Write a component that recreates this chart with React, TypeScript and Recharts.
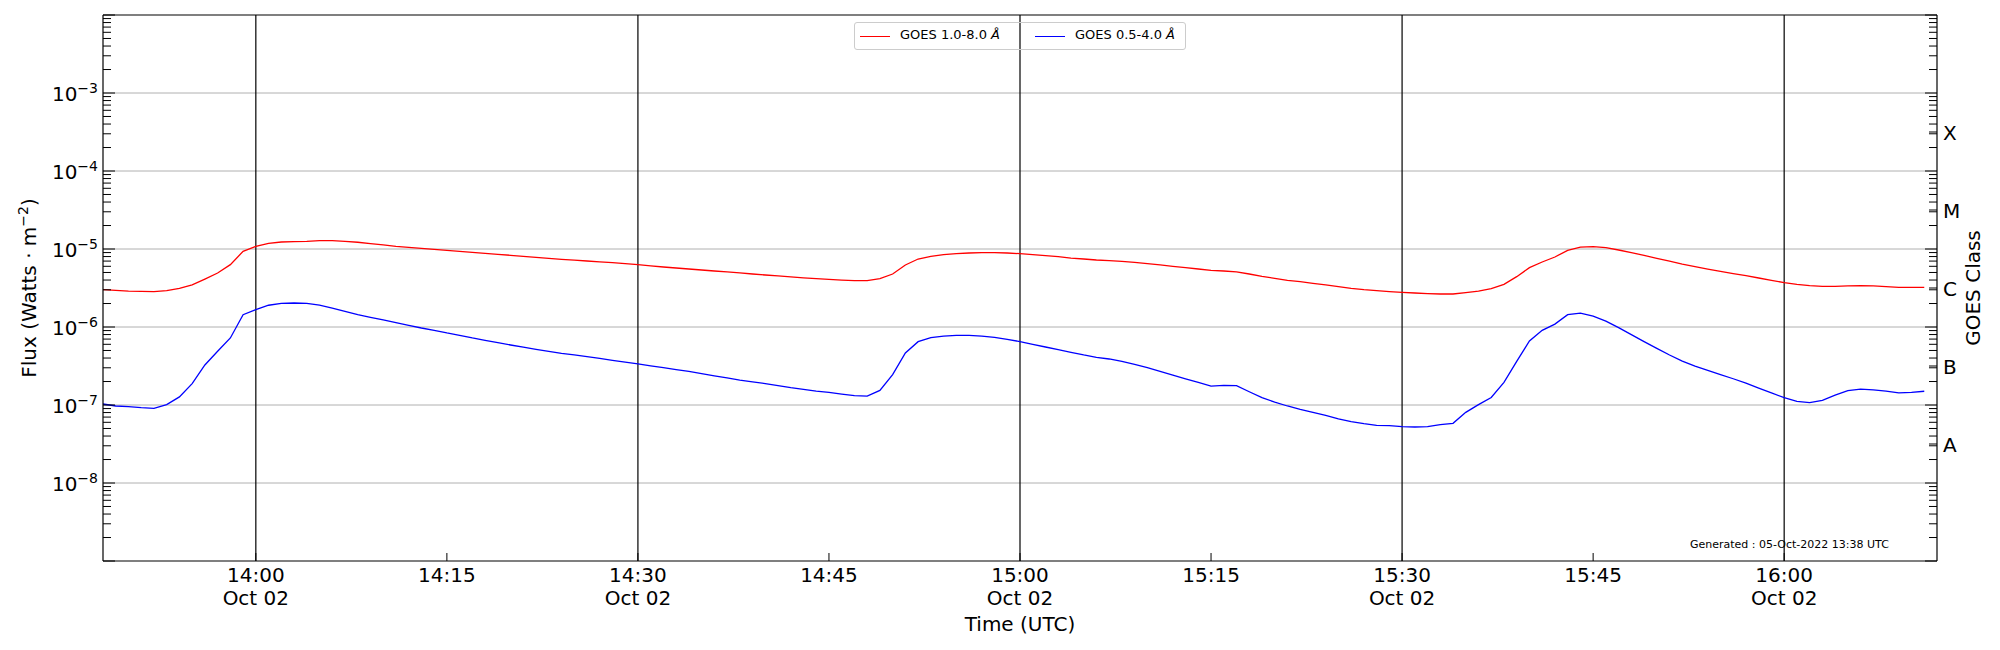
import React from 'react'
import {
  LineChart, Line, XAxis, YAxis, ReferenceLine,
} from 'recharts'

const START_MINUTE = 13 * 60 + 48 // first sample 13:48 UTC, one sample per minute

// GOES 1.0-8.0 Å (long channel), W/m^2
const xrsLong = [
  3.01e-6, 2.95e-6, 2.89e-6, 2.87e-6, 2.84e-6, 2.92e-6, 3.13e-6, 3.46e-6, 4.12e-6, 4.92e-6,
  6.30e-6, 9.33e-6, 1.08e-5, 1.18e-5, 1.23e-5, 1.24e-5, 1.25e-5, 1.28e-5, 1.28e-5, 1.25e-5,
  1.22e-5, 1.17e-5, 1.13e-5, 1.08e-5, 1.05e-5, 1.02e-5, 9.90e-6, 9.61e-6, 9.33e-6, 9.06e-6,
  8.80e-6, 8.54e-6, 8.30e-6, 8.05e-6, 7.82e-6, 7.59e-6, 7.37e-6, 7.19e-6, 7.02e-6, 6.85e-6,
  6.68e-6, 6.49e-6, 6.30e-6, 6.09e-6, 5.88e-6, 5.71e-6, 5.54e-6, 5.38e-6, 5.22e-6, 5.08e-6,
  4.93e-6, 4.78e-6, 4.64e-6, 4.51e-6, 4.38e-6, 4.27e-6, 4.17e-6, 4.09e-6, 4.00e-6, 3.93e-6,
  3.93e-6, 4.17e-6, 4.78e-6, 6.24e-6, 7.44e-6, 8.05e-6, 8.46e-6, 8.71e-6, 8.89e-6, 8.97e-6,
  8.97e-6, 8.89e-6, 8.71e-6, 8.46e-6, 8.21e-6, 7.97e-6, 7.66e-6, 7.44e-6, 7.23e-6, 7.09e-6,
  6.95e-6, 6.75e-6, 6.49e-6, 6.24e-6, 5.99e-6, 5.76e-6, 5.54e-6, 5.33e-6, 5.22e-6, 5.08e-6,
  4.78e-6, 4.46e-6, 4.21e-6, 3.97e-6, 3.81e-6, 3.63e-6, 3.46e-6, 3.29e-6, 3.13e-6, 3.01e-6,
  2.92e-6, 2.84e-6, 2.78e-6, 2.73e-6, 2.68e-6, 2.65e-6, 2.65e-6, 2.76e-6, 2.89e-6, 3.10e-6,
  3.52e-6, 4.42e-6, 5.76e-6, 6.81e-6, 7.90e-6, 9.61e-6, 1.06e-5, 1.07e-5, 1.04e-5, 9.71e-6,
  8.97e-6, 8.30e-6, 7.59e-6, 6.99e-6, 6.40e-6, 5.94e-6, 5.51e-6, 5.15e-6, 4.83e-6, 4.55e-6,
  4.25e-6, 3.97e-6, 3.70e-6, 3.52e-6, 3.39e-6, 3.32e-6, 3.32e-6, 3.36e-6, 3.39e-6, 3.36e-6,
  3.29e-6, 3.23e-6, 3.23e-6, 3.23e-6,
]

// GOES 0.5-4.0 Å (short channel), W/m^2
const xrsShort = [
  1.03e-7, 9.71e-8, 9.52e-8, 9.24e-8, 9.06e-8, 1.01e-7, 1.27e-7, 1.88e-7, 3.26e-7, 4.88e-7,
  7.23e-7, 1.44e-6, 1.67e-6, 1.90e-6, 2.01e-6, 2.03e-6, 2.01e-6, 1.91e-6, 1.75e-6, 1.59e-6,
  1.44e-6, 1.33e-6, 1.23e-6, 1.14e-6, 1.05e-6, 9.71e-7, 9.06e-7, 8.38e-7, 7.82e-7, 7.23e-7,
  6.75e-7, 6.30e-7, 5.88e-7, 5.51e-7, 5.17e-7, 4.88e-7, 4.60e-7, 4.38e-7, 4.17e-7, 3.95e-7,
  3.74e-7, 3.54e-7, 3.36e-7, 3.18e-7, 3.01e-7, 2.85e-7, 2.70e-7, 2.53e-7, 2.37e-7, 2.23e-7,
  2.09e-7, 1.98e-7, 1.88e-7, 1.77e-7, 1.67e-7, 1.59e-7, 1.51e-7, 1.45e-7, 1.38e-7, 1.32e-7,
  1.30e-7, 1.54e-7, 2.45e-7, 4.64e-7, 6.49e-7, 7.30e-7, 7.66e-7, 7.82e-7, 7.82e-7, 7.66e-7,
  7.37e-7, 6.95e-7, 6.49e-7, 5.99e-7, 5.54e-7, 5.12e-7, 4.74e-7, 4.38e-7, 4.09e-7, 3.89e-7,
  3.63e-7, 3.32e-7, 3.01e-7, 2.70e-7, 2.42e-7, 2.17e-7, 1.95e-7, 1.75e-7, 1.79e-7, 1.77e-7,
  1.48e-7, 1.24e-7, 1.09e-7, 9.71e-8, 8.80e-8, 8.05e-8, 7.37e-8, 6.62e-8, 6.11e-8, 5.76e-8,
  5.49e-8, 5.44e-8, 5.28e-8, 5.22e-8, 5.28e-8, 5.60e-8, 5.82e-8, 8.05e-8, 1.01e-7, 1.25e-7,
  1.95e-7, 3.63e-7, 6.62e-7, 9.06e-7, 1.09e-6, 1.44e-6, 1.51e-6, 1.38e-6, 1.19e-6, 9.81e-7,
  7.97e-7, 6.49e-7, 5.33e-7, 4.38e-7, 3.65e-7, 3.15e-7, 2.77e-7, 2.45e-7, 2.17e-7, 1.91e-7,
  1.65e-7, 1.43e-7, 1.24e-7, 1.11e-7, 1.07e-7, 1.15e-7, 1.34e-7, 1.53e-7, 1.60e-7, 1.56e-7,
  1.51e-7, 1.43e-7, 1.45e-7, 1.50e-7,
]

// x ticks, minutes after 13:48
const timeTicks = [12, 27, 42, 57, 72, 87, 102, 117, 132]
const timeLabels = ['14:00', '14:15', '14:30', '14:45', '15:00', '15:15', '15:30', '15:45', '16:00']
const dateTicks = [12, 42, 72, 102, 132]
const dateLabel = 'Oct 02'

const decades = [-9, -8, -7, -6, -5, -4, -3, -2]
const labelledDecades = [-8, -7, -6, -5, -4, -3]
const gridDecades = [-8, -7, -6, -5, -4, -3]

const goesClasses = ['A', 'B', 'C', 'M', 'X']
const goesClassLevels = [10 ** -7.5, 10 ** -6.5, 10 ** -5.5, 10 ** -4.5, 10 ** -3.5]

const data = xrsLong.map((v, i) => ({ t: i, long: v, short: xrsShort[i] }))

const logTicks: number[] = []
decades.forEach((e) => {
  logTicks.push(10 ** e)
  if (e < -2) for (let k = 2; k <= 9; k++) logTicks.push(k * 10 ** e)
})

const FONT = '"DejaVu Sans", sans-serif'

const isDecade = (v: number) => {
  const e = Math.round(Math.log10(v))
  return Math.abs(v - 10 ** e) / v < 1e-6
}

const BottomTick = ({ x, y, payload }: any) => {
  const idx = timeTicks.indexOf(payload.value)
  return (
    <g>
      <line x1={x} x2={x} y1={y} y2={y - 8} stroke="#000" strokeWidth={1} />
      <text x={x} y={y + 21} textAnchor="middle" fontSize={20} fontFamily={FONT} fill="#000">
        {timeLabels[idx]}
      </text>
      {dateTicks.includes(payload.value) && (
        <text x={x} y={y + 43.5} textAnchor="middle" fontSize={20} fontFamily={FONT} fill="#000">
          {dateLabel}
        </text>
      )}
    </g>
  )
}

const LeftTick = ({ x, y, payload }: any) => {
  const v = payload.value
  const major = isDecade(v)
  const e = Math.round(Math.log10(v))
  return (
    <g>
      <line x1={x} x2={x + (major ? 12 : 8)} y1={y} y2={y} stroke="#000" strokeWidth={1} />
      {major && labelledDecades.includes(e) && (
        <text x={x - 5} y={y + 8.4} textAnchor="end" fontSize={20} fontFamily={FONT} fill="#000">
          10<tspan fontSize={14} dy={-8.5}>{'\u2212' + Math.abs(e)}</tspan>
        </text>
      )}
    </g>
  )
}

const RightTick = ({ x, y, payload }: any) => {
  const v = payload.value
  const ci = goesClassLevels.findIndex((c) => Math.abs(c - v) / v < 1e-6)
  if (ci >= 0) {
    return (
      <g>
        <line x1={x} x2={x - 8} y1={y} y2={y} stroke="#000" strokeWidth={1} />
        <text x={x + 6} y={y + 7.5} fontSize={20} fontFamily={FONT} fill="#000">
          {goesClasses[ci]}
        </text>
      </g>
    )
  }
  return <line x1={x} x2={x - (isDecade(v) ? 12 : 8)} y1={y} y2={y} stroke="#000" strokeWidth={1} />
}

export default function App() {
  return (
    <div style={{ position: 'absolute', left: 0, top: 0, width: 2000, height: 650, fontFamily: FONT, background: '#fff' }}>
      <LineChart width={2000} height={650} data={data} margin={{ top: 14, right: 3, bottom: 29, left: 33 }}>
        <XAxis
          xAxisId="b"
          dataKey="t"
          type="number"
          domain={[0, 144]}
          ticks={timeTicks}
          interval={0}
          height={60}
          tickSize={0}
          tickMargin={0}
          tickLine={false}
          tick={<BottomTick />}
          axisLine={{ stroke: '#000', strokeWidth: 1.2 }}
          allowDataOverflow
        />
        <XAxis
          xAxisId="t"
          orientation="top"
          type="number"
          domain={[0, 144]}
          height={1}
          tick={false}
          tickLine={false}
          axisLine={{ stroke: '#000', strokeWidth: 1.2 }}
        />
        <YAxis
          yAxisId="l"
          type="number"
          scale="log"
          domain={[1e-9, 1e-2]}
          ticks={logTicks}
          interval={0}
          width={70}
          tickSize={0}
          tickMargin={0}
          tickLine={false}
          tick={<LeftTick />}
          axisLine={{ stroke: '#000', strokeWidth: 1.2 }}
          allowDataOverflow
        />
        <YAxis
          yAxisId="r"
          orientation="right"
          type="number"
          scale="log"
          domain={[1e-9, 1e-2]}
          ticks={[...logTicks, ...goesClassLevels].sort((a, b) => a - b)}
          interval={0}
          width={60}
          tickSize={0}
          tickMargin={0}
          tickLine={false}
          tick={<RightTick />}
          axisLine={{ stroke: '#000', strokeWidth: 1.2 }}
          allowDataOverflow
        />
        {gridDecades.map((e) => (
          <ReferenceLine key={'h' + e} xAxisId="b" yAxisId="l" y={10 ** e} stroke="#b0b0b0" strokeWidth={1} />
        ))}
        {dateTicks.map((m) => (
          <ReferenceLine key={'v' + m} xAxisId="b" yAxisId="l" x={m} stroke="#000" strokeWidth={1.2} />
        ))}
        <Line
          xAxisId="b"
          yAxisId="l"
          type="linear"
          dataKey="long"
          stroke="#ff0000"
          strokeWidth={1.3}
          dot={false}
          isAnimationActive={false}
        />
        <Line
          xAxisId="b"
          yAxisId="l"
          type="linear"
          dataKey="short"
          stroke="#0000ff"
          strokeWidth={1.3}
          dot={false}
          isAnimationActive={false}
        />
      </LineChart>

      {/* axis titles and footnote */}
      <svg width={2000} height={650} style={{ position: 'absolute', left: 0, top: 0, pointerEvents: 'none' }}>
        <text transform="translate(35.5,288) rotate(-90)" textAnchor="middle" fontSize={20} fontFamily={FONT} fill="#000">
          Flux (Watts · m<tspan fontSize={14} dy={-8}>−2</tspan><tspan dy={8}>)</tspan>
        </text>
        <text transform="translate(1980,288) rotate(-90)" textAnchor="middle" fontSize={20} fontFamily={FONT} fill="#000">
          GOES Class
        </text>
        <text x={1020} y={631} textAnchor="middle" fontSize={20} fontFamily={FONT} fill="#000">
          Time (UTC)
        </text>
        <text x={1690} y={548} fontSize={11} fontFamily={FONT} fill="#000">
          Generated : 05-Oct-2022 13:38 UTC
        </text>
      </svg>

      {/* legend */}
      <div
        style={{
          position: 'absolute', left: 854, top: 22, width: 330, height: 26,
          border: '1px solid #cccccc', borderRadius: 3, fontSize: 13, color: '#000',
        }}
      >
        <div style={{ position: 'absolute', left: 5, top: 13, width: 30, borderTop: '1.3px solid #ff0000' }} />
        <div style={{ position: 'absolute', left: 45, top: 4, whiteSpace: 'nowrap' }}>
          GOES 1.0-8.0 <i>Å</i>
        </div>
        <div style={{ position: 'absolute', left: 180, top: 13, width: 30, borderTop: '1.3px solid #0000ff' }} />
        <div style={{ position: 'absolute', left: 220, top: 4, whiteSpace: 'nowrap' }}>
          GOES 0.5-4.0 <i>Å</i>
        </div>
      </div>
    </div>
  )
}
